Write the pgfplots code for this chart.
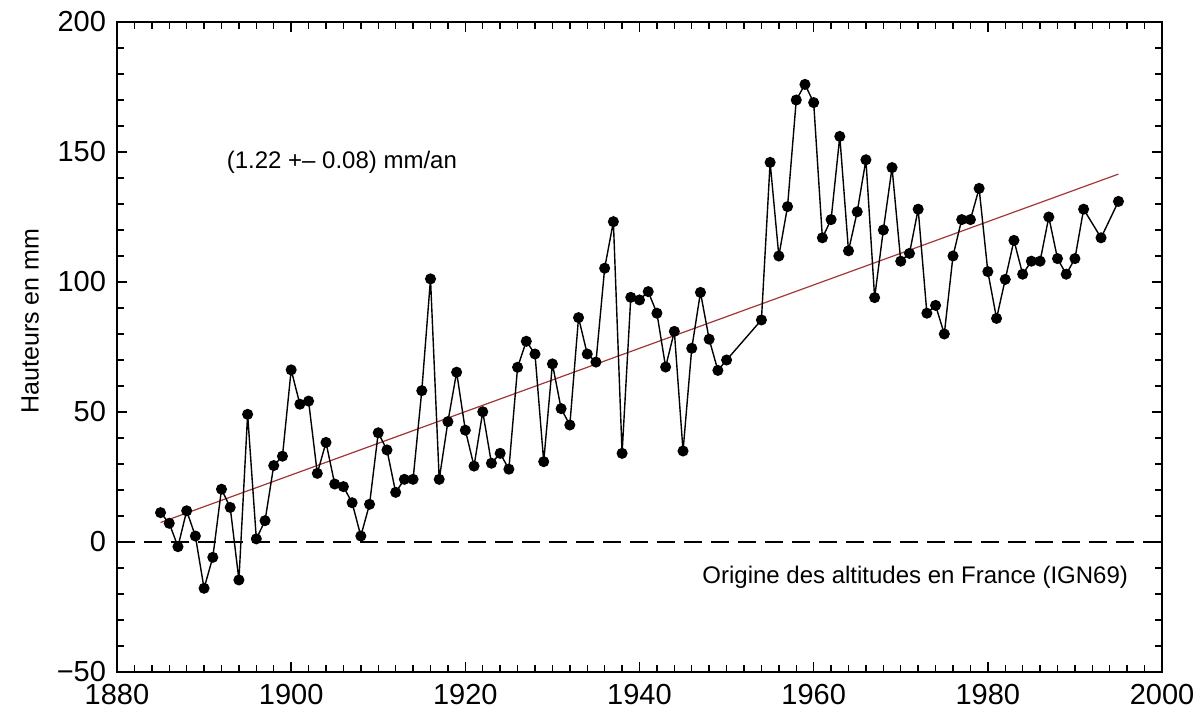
\documentclass[border=0pt]{standalone}
\usepackage{fontspec}
\setmainfont{Liberation Sans}
\usepackage{pgfplots}
\pgfplotsset{compat=1.18}
\definecolor{trend}{RGB}{160,55,55}
\begin{document}
\begin{tikzpicture}
\begin{axis}[
  scale only axis,
  width=522.5bp, height=325bp,
  xmin=1880, xmax=2000, ymin=-50, ymax=200,
  xtick={1880,1900,1920,1940,1960,1980,2000},
  xticklabels={1880,1900,1920,1940,1960,1980,2000},
  ytick={-50,0,50,100,150,200},
  yticklabels={−50,0,50,100,150,200},
  minor x tick num=9,
  minor y tick num=4,
  tick align=inside,
  major tick length=5bp,
  minor tick length=3.5bp,
  every tick/.style={black, line width=0.7bp},
  axis line style={line width=0.8bp},
  tick label style={font=\fontsize{14.5bp}{17bp}\selectfont},
  xticklabel style={yshift=-2.5bp},
  yticklabel style={xshift=-2bp},
  ylabel={Hauteurs en mm},
  ylabel style={font=\fontsize{12.5bp}{14bp}\selectfont, at={(axis description cs:-0.083,0.54)}, anchor=center},
  clip=false,
]
\addplot[black, line width=0.75bp, dash pattern=on 9bp off 4.5bp, forget plot] coordinates {(1880,0) (2000,0)};
\addplot[trend, line width=0.6bp] coordinates {(1885,7.5) (1995,141.5)};
\addplot[black, line width=0.7bp, mark=*, mark size=2.4bp, mark options={fill=black}] coordinates {
(1885,11.3) (1886,7.2) (1887,-1.8) (1888,12) (1889,2.3) (1890,-17.8) (1891,-5.9) (1892,20.3) (1893,13.3) (1894,-14.6)
(1895,49.1) (1896,1.2) (1897,8.2) (1898,29.4) (1899,33) (1900,66.2) (1901,53) (1902,54.2) (1903,26.4) (1904,38.3)
(1905,22.3) (1906,21.3) (1907,15.1) (1908,2.3) (1909,14.5) (1910,42) (1911,35.4) (1912,19.1) (1913,24.1) (1914,24.1)
(1915,58.2) (1916,101.2) (1917,24.1) (1918,46.3) (1919,65.3) (1920,43) (1921,29.2) (1922,50.1) (1923,30.3) (1924,34.1)
(1925,28) (1926,67.2) (1927,77.2) (1928,72.3) (1929,30.9) (1930,68.5) (1931,51.3) (1932,45) (1933,86.3) (1934,72.3)
(1935,69.2) (1936,105.3) (1937,123.2) (1938,34.1) (1939,94.1) (1940,93.1) (1941,96.3) (1942,88) (1943,67.3) (1944,81)
(1945,35) (1946,74.5) (1947,96) (1948,78) (1949,66) (1950,70) (1954,85.4) (1955,146) (1956,110) (1957,129)
(1958,170) (1959,176) (1960,169) (1961,117) (1962,124) (1963,156) (1964,112) (1965,127) (1966,147) (1967,94)
(1968,120) (1969,144) (1970,108) (1971,111) (1972,128) (1973,88) (1974,91) (1975,80) (1976,110) (1977,124)
(1978,124) (1979,136) (1980,104) (1981,86) (1982,101) (1983,116) (1984,103) (1985,108) (1986,108) (1987,125)
(1988,109) (1989,103) (1990,109) (1991,128) (1993,117) (1995,131)
};
\node[anchor=west, font=\fontsize{12bp}{14bp}\selectfont] at (axis cs:1891.8,146) {(1.22 +– 0.08) mm/an};
\node[anchor=east, font=\fontsize{12bp}{14bp}\selectfont] at (axis cs:1996.9,-13.5) {Origine des altitudes en France (IGN69)};
\end{axis}
\pgfresetboundingbox
\path ([shift={(-58.5bp,-18bp)}]current axis.south west) rectangle ([shift={(20.5bp,11bp)}]current axis.north east);
\end{tikzpicture}
\end{document}
